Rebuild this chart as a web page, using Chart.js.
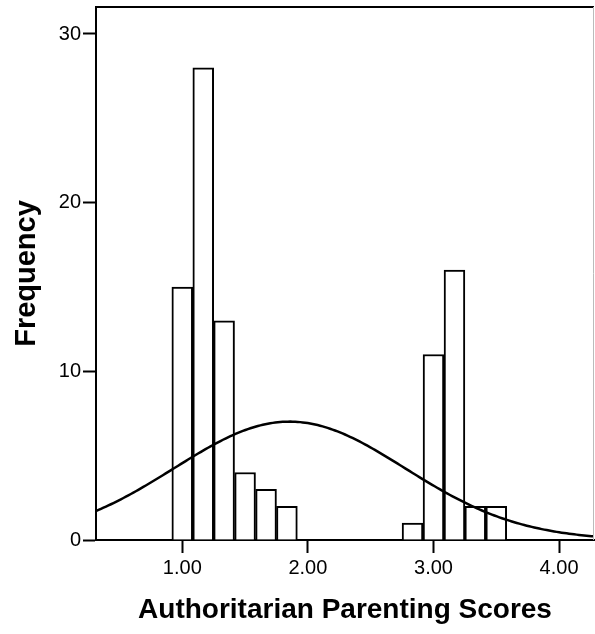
<!DOCTYPE html>
<html>
<head>
<meta charset="utf-8">
<script src="https://cdn.jsdelivr.net/npm/chart.js@4/dist/chart.umd.min.js"></script>
<style>
  html, body { margin: 0; padding: 0; background: #fff; }
  #wrap { width: 595px; height: 634px; }
</style>
</head>
<body>
<div id="wrap"><canvas id="histChart"></canvas></div>
<script>
// histogram bins (centres, width 1/6) and counts
const binCenters = [1.000, 1.167, 1.333, 1.500, 1.667, 1.833, 2.000, 2.167,
                    2.333, 2.500, 2.667, 2.833, 3.000, 3.167, 3.333, 3.500];
const binCounts = [15, 28, 13, 4, 3, 2, 0, 0, 0, 0, 0, 1, 11, 16, 2, 2];
const binWidth = 1 / 6;

const xTickValues = [1, 2, 3, 4];
const yTickValues = [0, 10, 20, 30];
const xRange = [0.313, 4.278];
const yRange = [0, 31.6];

// normal curve fitted to the binned data (mean / sd taken from the bins)
const total = binCounts.reduce((a, b) => a + b, 0);
const mean = binCenters.reduce((s, c, i) => s + c * binCounts[i], 0) / total;
const sd = Math.sqrt(binCenters.reduce((s, c, i) => s + binCounts[i] * (c - mean) ** 2, 0) / (total - 1));
const curvePoints = [];
for (let i = 0; i <= 200; i++) {
  const x = xRange[0] + (xRange[1] - xRange[0]) * i / 200;
  const z = (x - mean) / sd;
  curvePoints.push({ x: x, y: total * binWidth * Math.exp(-0.5 * z * z) / (sd * Math.sqrt(2 * Math.PI)) });
}

const frame = {
  id: 'frame',
  afterDatasetsDraw(chart) {
    const { ctx, chartArea: a } = chart;
    ctx.save();
    ctx.strokeStyle = '#000';
    ctx.lineWidth = 2;
    ctx.beginPath();
    ctx.moveTo(a.left, a.top);
    ctx.lineTo(a.right, a.top);
    ctx.stroke();
    ctx.lineWidth = 1;
    ctx.strokeStyle = '#bbb';
    ctx.beginPath();
    ctx.moveTo(a.right - 0.5, a.top);
    ctx.lineTo(a.right - 0.5, a.bottom);
    ctx.stroke();
    ctx.restore();
  }
};

const FONT = "'Liberation Sans', Arial, sans-serif";

new Chart(document.getElementById('histChart'), {
  type: 'bar',
  data: {
    datasets: [
      {
        type: 'line',
        data: curvePoints,
        borderColor: '#000',
        borderWidth: 2.5,
        pointRadius: 0,
        tension: 0,
        order: 0
      },
      {
        type: 'bar',
        data: binCenters.map((c, i) => ({ x: c, y: binCounts[i] })),
        backgroundColor: '#fff',
        borderColor: '#000',
        borderWidth: 2,
        barPercentage: 1,
        categoryPercentage: 1,
        order: 1
      }
    ]
  },
  options: {
    responsive: true,
    maintainAspectRatio: false,
    animation: false,
    layout: { padding: { top: 7, right: 1, left: 0, bottom: 0 } },
    plugins: { legend: { display: false }, tooltip: { enabled: false } },
    scales: {
      x: {
        type: 'linear',
        offset: false,
        min: xRange[0],
        max: xRange[1],
        afterBuildTicks: s => { s.ticks = xTickValues.map(v => ({ value: v })); },
        afterFit: s => { s.height = 94; s.paddingLeft = 0; s.paddingRight = 0; },
        grid: { offset: false, drawOnChartArea: false, tickLength: 13, tickWidth: 2, tickColor: '#000' },
        border: { display: true, color: '#000', width: 2 },
        ticks: {
          color: '#000',
          font: { family: FONT, size: 20 },
          padding: 3,
          maxRotation: 0,
          callback: v => Number(v).toFixed(2)
        },
        title: {
          display: true,
          text: 'Authoritarian Parenting Scores',
          color: '#000',
          font: { family: FONT, size: 28, weight: 'bold' },
          padding: { bottom: 7 }
        }
      },
      y: {
        min: yRange[0],
        max: yRange[1],
        afterBuildTicks: s => { s.ticks = yTickValues.map(v => ({ value: v })); },
        afterFit: s => { s.width = 96; s.paddingTop = 0; s.paddingBottom = 0; },
        grid: { drawOnChartArea: false, tickLength: 13, tickWidth: 2, tickColor: '#000' },
        border: { display: true, color: '#000', width: 2 },
        ticks: {
          color: '#000',
          font: { family: FONT, size: 20 },
          padding: 2
        },
        title: {
          display: true,
          text: 'Frequency',
          color: '#000',
          font: { family: FONT, size: 29, weight: 'bold' },
          padding: { top: 10 }
        }
      }
    }
  },
  plugins: [frame]
});
</script>
</body>
</html>
